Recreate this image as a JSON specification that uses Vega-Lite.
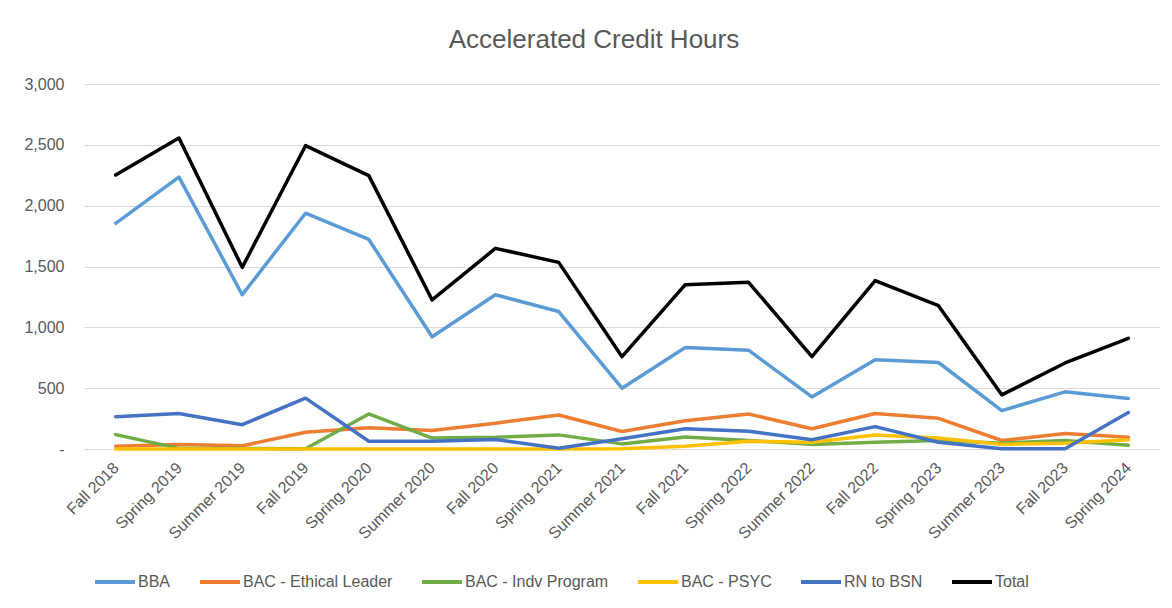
{
  "$schema": "https://vega.github.io/schema/vega-lite/v6.json",
  "width": 1076,
  "height": 365,
  "autosize": {"type": "none"},
  "padding": {"left": 84, "top": 84, "right": 12, "bottom": 159},
  "background": "white",
  "title": {
    "text": "Accelerated Credit Hours",
    "font": "Liberation Sans",
    "fontSize": 26,
    "fontWeight": "normal",
    "color": "#595959",
    "anchor": "middle",
    "dx": -28,
    "offset": 23
  },
  "data": {
    "values": [
      {"term": "Fall 2018", "series": "BBA", "hours": 1855},
      {"term": "Spring 2019", "series": "BBA", "hours": 2235},
      {"term": "Summer 2019", "series": "BBA", "hours": 1268},
      {"term": "Fall 2019", "series": "BBA", "hours": 1938},
      {"term": "Spring 2020", "series": "BBA", "hours": 1722},
      {"term": "Summer 2020", "series": "BBA", "hours": 922},
      {"term": "Fall 2020", "series": "BBA", "hours": 1268},
      {"term": "Spring 2021", "series": "BBA", "hours": 1130},
      {"term": "Summer 2021", "series": "BBA", "hours": 500},
      {"term": "Fall 2021", "series": "BBA", "hours": 834},
      {"term": "Spring 2022", "series": "BBA", "hours": 812},
      {"term": "Summer 2022", "series": "BBA", "hours": 428},
      {"term": "Fall 2022", "series": "BBA", "hours": 734},
      {"term": "Spring 2023", "series": "BBA", "hours": 711},
      {"term": "Summer 2023", "series": "BBA", "hours": 315},
      {"term": "Fall 2023", "series": "BBA", "hours": 470},
      {"term": "Spring 2024", "series": "BBA", "hours": 416},

      {"term": "Fall 2018", "series": "BAC - Ethical Leader", "hours": 22},
      {"term": "Spring 2019", "series": "BAC - Ethical Leader", "hours": 36},
      {"term": "Summer 2019", "series": "BAC - Ethical Leader", "hours": 26},
      {"term": "Fall 2019", "series": "BAC - Ethical Leader", "hours": 138},
      {"term": "Spring 2020", "series": "BAC - Ethical Leader", "hours": 174},
      {"term": "Summer 2020", "series": "BAC - Ethical Leader", "hours": 152},
      {"term": "Fall 2020", "series": "BAC - Ethical Leader", "hours": 212},
      {"term": "Spring 2021", "series": "BAC - Ethical Leader", "hours": 280},
      {"term": "Summer 2021", "series": "BAC - Ethical Leader", "hours": 144},
      {"term": "Fall 2021", "series": "BAC - Ethical Leader", "hours": 232},
      {"term": "Spring 2022", "series": "BAC - Ethical Leader", "hours": 288},
      {"term": "Summer 2022", "series": "BAC - Ethical Leader", "hours": 166},
      {"term": "Fall 2022", "series": "BAC - Ethical Leader", "hours": 292},
      {"term": "Spring 2023", "series": "BAC - Ethical Leader", "hours": 252},
      {"term": "Summer 2023", "series": "BAC - Ethical Leader", "hours": 70},
      {"term": "Fall 2023", "series": "BAC - Ethical Leader", "hours": 128},
      {"term": "Spring 2024", "series": "BAC - Ethical Leader", "hours": 96},

      {"term": "Fall 2018", "series": "BAC - Indv Program", "hours": 118},
      {"term": "Spring 2019", "series": "BAC - Indv Program", "hours": 5},
      {"term": "Summer 2019", "series": "BAC - Indv Program", "hours": 5},
      {"term": "Fall 2019", "series": "BAC - Indv Program", "hours": 2},
      {"term": "Spring 2020", "series": "BAC - Indv Program", "hours": 288},
      {"term": "Summer 2020", "series": "BAC - Indv Program", "hours": 90},
      {"term": "Fall 2020", "series": "BAC - Indv Program", "hours": 96},
      {"term": "Spring 2021", "series": "BAC - Indv Program", "hours": 116},
      {"term": "Summer 2021", "series": "BAC - Indv Program", "hours": 42},
      {"term": "Fall 2021", "series": "BAC - Indv Program", "hours": 98},
      {"term": "Spring 2022", "series": "BAC - Indv Program", "hours": 70},
      {"term": "Summer 2022", "series": "BAC - Indv Program", "hours": 38},
      {"term": "Fall 2022", "series": "BAC - Indv Program", "hours": 56},
      {"term": "Spring 2023", "series": "BAC - Indv Program", "hours": 70},
      {"term": "Summer 2023", "series": "BAC - Indv Program", "hours": 48},
      {"term": "Fall 2023", "series": "BAC - Indv Program", "hours": 70},
      {"term": "Spring 2024", "series": "BAC - Indv Program", "hours": 30},

      {"term": "Fall 2018", "series": "BAC - PSYC", "hours": 0},
      {"term": "Spring 2019", "series": "BAC - PSYC", "hours": 0},
      {"term": "Summer 2019", "series": "BAC - PSYC", "hours": 0},
      {"term": "Fall 2019", "series": "BAC - PSYC", "hours": 0},
      {"term": "Spring 2020", "series": "BAC - PSYC", "hours": 0},
      {"term": "Summer 2020", "series": "BAC - PSYC", "hours": 0},
      {"term": "Fall 2020", "series": "BAC - PSYC", "hours": 0},
      {"term": "Spring 2021", "series": "BAC - PSYC", "hours": 0},
      {"term": "Summer 2021", "series": "BAC - PSYC", "hours": 3},
      {"term": "Fall 2021", "series": "BAC - PSYC", "hours": 22},
      {"term": "Spring 2022", "series": "BAC - PSYC", "hours": 64},
      {"term": "Summer 2022", "series": "BAC - PSYC", "hours": 56},
      {"term": "Fall 2022", "series": "BAC - PSYC", "hours": 116},
      {"term": "Spring 2023", "series": "BAC - PSYC", "hours": 90},
      {"term": "Summer 2023", "series": "BAC - PSYC", "hours": 38},
      {"term": "Fall 2023", "series": "BAC - PSYC", "hours": 48},
      {"term": "Spring 2024", "series": "BAC - PSYC", "hours": 76},

      {"term": "Fall 2018", "series": "RN to BSN", "hours": 266},
      {"term": "Spring 2019", "series": "RN to BSN", "hours": 292},
      {"term": "Summer 2019", "series": "RN to BSN", "hours": 200},
      {"term": "Fall 2019", "series": "RN to BSN", "hours": 418},
      {"term": "Spring 2020", "series": "RN to BSN", "hours": 64},
      {"term": "Summer 2020", "series": "RN to BSN", "hours": 64},
      {"term": "Fall 2020", "series": "RN to BSN", "hours": 78},
      {"term": "Spring 2021", "series": "RN to BSN", "hours": 6},
      {"term": "Summer 2021", "series": "RN to BSN", "hours": 84},
      {"term": "Fall 2021", "series": "RN to BSN", "hours": 166},
      {"term": "Spring 2022", "series": "RN to BSN", "hours": 146},
      {"term": "Summer 2022", "series": "RN to BSN", "hours": 76},
      {"term": "Fall 2022", "series": "RN to BSN", "hours": 184},
      {"term": "Spring 2023", "series": "RN to BSN", "hours": 56},
      {"term": "Summer 2023", "series": "RN to BSN", "hours": 2},
      {"term": "Fall 2023", "series": "RN to BSN", "hours": 2},
      {"term": "Spring 2024", "series": "RN to BSN", "hours": 300},

      {"term": "Fall 2018", "series": "Total", "hours": 2252},
      {"term": "Spring 2019", "series": "Total", "hours": 2556},
      {"term": "Summer 2019", "series": "Total", "hours": 1493},
      {"term": "Fall 2019", "series": "Total", "hours": 2493},
      {"term": "Spring 2020", "series": "Total", "hours": 2247},
      {"term": "Summer 2020", "series": "Total", "hours": 1225},
      {"term": "Fall 2020", "series": "Total", "hours": 1649},
      {"term": "Spring 2021", "series": "Total", "hours": 1534},
      {"term": "Summer 2021", "series": "Total", "hours": 759},
      {"term": "Fall 2021", "series": "Total", "hours": 1351},
      {"term": "Spring 2022", "series": "Total", "hours": 1370},
      {"term": "Summer 2022", "series": "Total", "hours": 759},
      {"term": "Fall 2022", "series": "Total", "hours": 1384},
      {"term": "Spring 2023", "series": "Total", "hours": 1178},
      {"term": "Summer 2023", "series": "Total", "hours": 445},
      {"term": "Fall 2023", "series": "Total", "hours": 707},
      {"term": "Spring 2024", "series": "Total", "hours": 910}
    ]
  },
  "mark": {"type": "line", "strokeWidth": 3.5, "strokeCap": "round", "strokeJoin": "round"},
  "encoding": {
    "x": {
      "field": "term",
      "type": "ordinal",
      "sort": null,
      "scale": {"type": "point", "padding": 0.5},
      "axis": {
        "title": null,
        "domain": false,
        "ticks": false,
        "tickSize": 0,
        "labelAngle": -45,
        "labelAlign": "right",
        "labelBaseline": "middle",
        "labelPadding": 16,
        "labelFont": "Liberation Sans",
        "labelFontSize": 16,
        "labelColor": "#595959",
        "grid": false
      }
    },
    "y": {
      "field": "hours",
      "type": "quantitative",
      "scale": {"domain": [0, 3000], "nice": false},
      "axis": {
        "title": null,
        "values": [0, 500, 1000, 1500, 2000, 2500, 3000],
        "labelExpr": "datum.value === 0 ? '-  ' : format(datum.value, ',')",
        "domain": false,
        "ticks": false,
        "tickSize": 0,
        "labelPadding": 20,
        "labelFont": "Liberation Sans",
        "labelFontSize": 16,
        "labelColor": "#595959",
        "grid": true,
        "gridColor": "#d9d9d9",
        "gridWidth": 1
      }
    },
    "color": {
      "field": "series",
      "type": "nominal",
      "sort": null,
      "scale": {
        "domain": ["BBA", "BAC - Ethical Leader", "BAC - Indv Program", "BAC - PSYC", "RN to BSN", "Total"],
        "range": ["#5B9BD5", "#ED7D31", "#70AD47", "#FFC000", "#4472C4", "#000000"]
      },
      "legend": {
        "title": null,
        "orient": "none",
        "legendX": 9,
        "legendY": 476,
        "direction": "horizontal",
        "symbolType": "stroke",
        "symbolSize": 1600,
        "symbolStrokeWidth": 4,
        "labelOffset": 1,
        "columnPadding": 21,
        "labelFont": "Liberation Sans",
        "labelFontSize": 16,
        "labelColor": "#595959"
      }
    }
  },
  "config": {"view": {"stroke": null}}
}
